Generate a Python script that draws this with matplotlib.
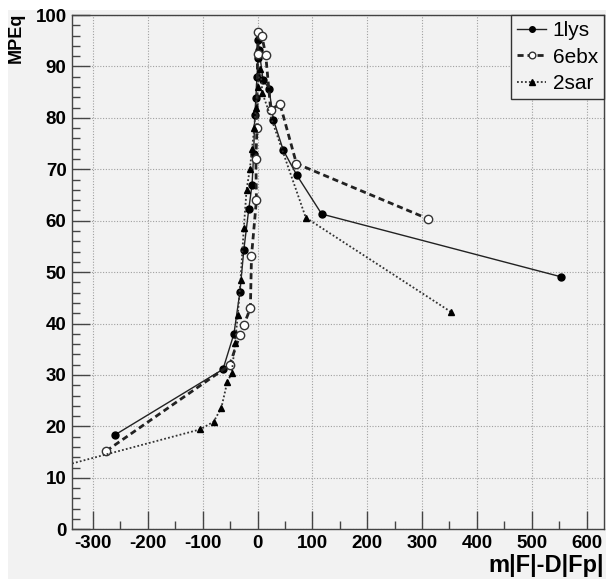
import matplotlib
matplotlib.use("Agg")
import matplotlib.pyplot as plt
from matplotlib.patches import Rectangle
from matplotlib.ticker import MultipleLocator

plt.rcParams['font.family'] = ['Liberation Sans', 'DejaVu Sans']
plt.rcParams['axes.unicode_minus'] = False

# 1lys: solid line, filled circles
lys_x = [-259, -63, -43, -32, -25, -16, -10, -7, -5, -3, -1, 1, 1, 3, 10, 21, 29, 47, 72, 117, 553]
lys_y = [18.4, 31.1, 38.0, 46.2, 54.3, 62.2, 67.0, 73.0, 80.5, 83.8, 88.0, 91.6, 95.2, 93.2, 87.4, 85.7, 79.6, 73.7, 68.8, 61.3, 49.1]

# 6ebx: dashed line, open circles
ebx_x = [-276, -51, -32, -25, -13, -11, -2, -3, -1, 0, 1, 8, 15, 24, 41, 71, 310]
ebx_y = [15.2, 31.9, 37.8, 39.7, 43.0, 53.1, 64.0, 72.0, 78.0, 92.5, 96.8, 95.9, 92.2, 81.6, 82.7, 71.1, 60.4]

# 2sar: dotted line, triangles
sar_x = [-450, -105, -80, -66, -55, -47, -41, -36, -31, -25, -20, -14, -10, -6, -3, 0, 5, 9, 88, 352]
sar_y = [9.6, 19.4, 20.9, 23.6, 28.7, 30.3, 36.2, 41.6, 48.4, 58.5, 66.0, 70.0, 74.0, 78.0, 82.0, 86.0, 89.6, 84.8, 60.6, 42.3]

bg = '#f2f2f2'
W, H = 606, 579
fig = plt.figure(figsize=(W / 100, H / 100), dpi=100, facecolor='white')
# grey canvas, with the thin white strips at top and left of the screenshot
fig.patches.append(Rectangle((8 / W, 0), 1, 1 - 10 / H, transform=fig.transFigure,
                             facecolor=bg, edgecolor='none', zorder=-5))
ax = fig.add_axes([0.119, 0.086, 0.878, 0.888], facecolor=bg)

ax.plot(lys_x, lys_y, '-', color='#222222', lw=1.0, marker='o', ms=5,
        mfc='black', mec='black', label='1lys')
ax.plot(ebx_x, ebx_y, color='#222222', lw=2.0, ls=(0, (2.2, 1.4)), marker='o', ms=6,
        mfc='white', mec='#333333', mew=1.0, label='6ebx')
ax.plot(sar_x, sar_y, color='#333333', lw=1.3, ls=(0, (1, 1.2)), marker='^', ms=5,
        mfc='black', mec='black', label='2sar')

ax.set_xlim(-338, 632)
ax.set_ylim(0, 100)
ax.xaxis.set_major_locator(MultipleLocator(100))
ax.xaxis.set_minor_locator(MultipleLocator(50))
ax.yaxis.set_major_locator(MultipleLocator(10))
ax.yaxis.set_minor_locator(MultipleLocator(2))
ax.tick_params(which='both', direction='in', top=False, right=False, color='#444444')
ax.tick_params(which='major', length=13, width=1.0, labelsize=13.5, pad=4)
ax.tick_params(which='minor', length=6, width=1.0)
for lbl in ax.get_xticklabels() + ax.get_yticklabels():
    lbl.set_fontweight('bold')
for sp in ax.spines.values():
    sp.set_color('#444444')
    sp.set_linewidth(1.0)

ax.grid(True, which='major', ls=(0, (1, 1.5)), color='#a0a0a0', lw=0.8)
ax.set_axisbelow(True)

fig.text(0.027, 0.978, 'MPEq', rotation=90, ha='center', va='top',
         fontsize=13, fontweight='bold')
fig.patches.append(Rectangle((0, 0), 8 / W, 1, transform=fig.transFigure,
                             facecolor='white', edgecolor='none', zorder=10))
fig.text(0.997, 0.004, 'm|F|-D|Fp|', ha='right', va='bottom',
         fontsize=17, fontweight='bold')

leg = ax.legend(loc='upper right', fontsize=15, frameon=True, fancybox=False,
                handlelength=1.4, handletextpad=0.3, borderpad=0.3,
                labelspacing=0.35, borderaxespad=0, markerscale=0.8)
leg.get_frame().set_edgecolor('#333333')
leg.get_frame().set_facecolor(bg)
leg.get_frame().set_alpha(1)
leg.get_frame().set_linewidth(1.0)

fig.savefig('out.png', dpi=100, facecolor='white')
